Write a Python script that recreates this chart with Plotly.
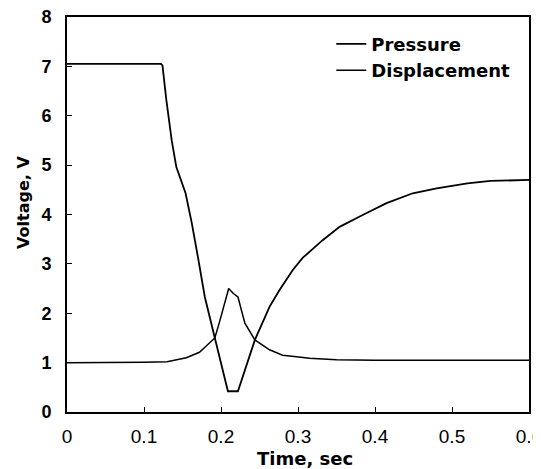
import plotly.graph_objects as go

# Pressure trace
p_time = [0.0, 0.05, 0.10, 0.122, 0.124, 0.129, 0.136, 0.142, 0.154, 0.162, 0.170, 0.179,
          0.192, 0.200, 0.209, 0.222, 0.232, 0.244, 0.263, 0.276, 0.293, 0.306, 0.332,
          0.354, 0.384, 0.415, 0.449, 0.48, 0.52, 0.55, 0.60]
p_volt = [7.05, 7.05, 7.05, 7.05, 7.02, 6.32, 5.50, 4.96, 4.43, 3.83, 3.14, 2.33,
          1.50, 0.98, 0.42, 0.42, 0.90, 1.46, 2.13, 2.47, 2.87, 3.12, 3.48,
          3.75, 3.99, 4.23, 4.43, 4.53, 4.63, 4.68, 4.70]

# Displacement trace
d_time = [0.0, 0.05, 0.10, 0.13, 0.14, 0.155, 0.172, 0.185, 0.192, 0.198, 0.210, 0.216,
          0.222, 0.231, 0.244, 0.263, 0.280, 0.298, 0.315, 0.35, 0.40, 0.50, 0.60]
d_volt = [1.00, 1.00, 1.01, 1.02, 1.05, 1.10, 1.21, 1.39, 1.50, 1.82, 2.50, 2.40,
          2.33, 1.80, 1.46, 1.26, 1.15, 1.12, 1.09, 1.06, 1.05, 1.05, 1.05]

x_ticks = [0, 0.1, 0.2, 0.3, 0.4, 0.5, 0.6]
x_tick_text = ["0", "0.1", "0.2", "0.3", "0.4", "0.5", "0.6"]
y_ticks = [0, 1, 2, 3, 4, 5, 6, 7, 8]

fig = go.Figure()
fig.add_trace(go.Scatter(x=p_time, y=p_volt, mode="lines", name="Pressure",
                         line=dict(color="black", width=1.8)))
fig.add_trace(go.Scatter(x=d_time, y=d_volt, mode="lines", name="Displacement",
                         line=dict(color="black", width=1.5)))

# page body has an 8px margin, so the figure is offset by (8, 8)
fig.update_layout(
    width=533, height=461,
    margin=dict(l=59, r=12, t=9, b=57, autoexpand=False),
    paper_bgcolor="white", plot_bgcolor="white",
    showlegend=True,
    legend=dict(x=0.572, y=0.978, xanchor="left", yanchor="top",
                bgcolor="rgba(0,0,0,0)", borderwidth=0,
                font=dict(family="DejaVu Sans", size=18, color="black", weight="bold"),
                tracegroupgap=0),
    xaxis=dict(range=[0, 0.6], tickvals=x_ticks, ticktext=x_tick_text,
               showgrid=False, zeroline=False, showline=True, linecolor="black",
               linewidth=2, mirror=True, ticks="inside", ticklen=5, tickwidth=1,
               tickcolor="black", ticklabeloverflow="allow", automargin=False,
               tickfont=dict(family="Liberation Sans", size=19, color="black"),
               ticklabelstandoff=6),
    yaxis=dict(range=[0, 8], tickvals=y_ticks,
               showgrid=False, zeroline=False, showline=True, linecolor="black",
               linewidth=2, mirror=True, ticks="inside", ticklen=5, tickwidth=1,
               tickcolor="black", ticklabeloverflow="allow", automargin=False,
               tickfont=dict(family="Liberation Sans", size=18, color="black", weight="bold"),
               ticklabelstandoff=10),
    annotations=[
        dict(text="Time, sec", xref="paper", yref="paper", x=(305 - 67) / 462,
             y=-(458 - 412) / 395, xanchor="center", yanchor="middle", showarrow=False,
             font=dict(family="DejaVu Sans", size=18, color="black", weight="bold")),
        dict(text="Voltage, V", xref="paper", yref="paper", x=-(67 - 24) / 462,
             y=(412 - 203) / 395, xanchor="center", yanchor="middle", showarrow=False,
             textangle=-90,
             font=dict(family="DejaVu Sans", size=16, color="black", weight="bold")),
    ],
)

fig.write_html("out.html")
